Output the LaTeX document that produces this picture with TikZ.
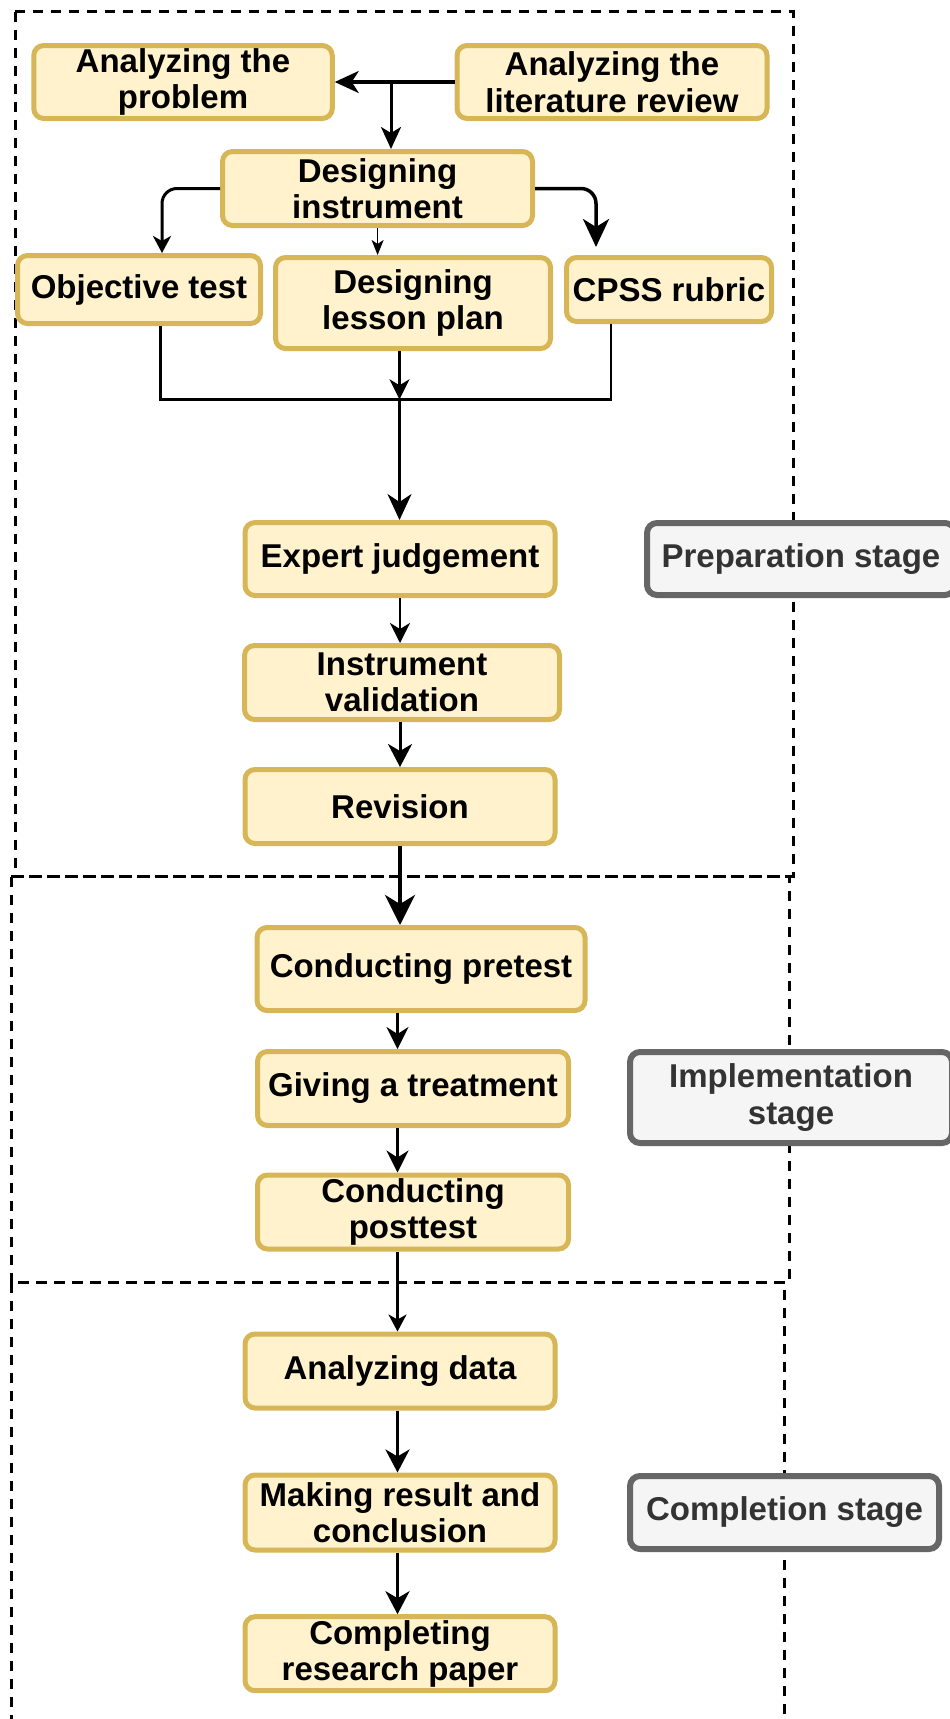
\documentclass[tikz,border=0pt]{standalone}
\usepackage{fontspec}
\setmainfont{Liberation Sans}
\usetikzlibrary{arrows.meta,calc}
\definecolor{boxfill}{HTML}{FFF2CC}
\definecolor{boxdraw}{HTML}{D6B656}
\definecolor{stfill}{HTML}{F5F5F5}
\definecolor{stdraw}{HTML}{666666}
\definecolor{sttext}{HTML}{333333}
\begin{document}
\begin{tikzpicture}[x=1pt,y=-1pt,
  box/.style={draw=boxdraw, fill=boxfill, line width=5pt, rounded corners=10pt, inner sep=0pt, align=center, font=\bfseries\fontsize{33}{36.5}\selectfont},
  stagebox/.style={draw=stdraw, fill=stfill, line width=6pt, rounded corners=10pt, inner sep=0pt, align=center, text=sttext, font=\bfseries\fontsize{33}{36.5}\selectfont},
  frame/.style={line width=3pt, dash pattern=on 10pt off 8pt},
  ah/.style n args={3}{-{Stealth[length=#1pt,width=#2pt,inset=#3pt]}},
]
\useasboundingbox (0,0) rectangle (950,1719);

% stage frames
\draw[frame] (15,11.7) rectangle (793,876.7);
\draw[frame] (11,876.7) rectangle (789,1282.7);
\draw[frame] (11,1282.7) rectangle (784,1760);

% process boxes
\node[box, minimum width=298.5pt, minimum height=73pt] (prob) at (183,82) {Analyzing the\\problem};
\node[box, minimum width=310pt, minimum height=73pt] (lit) at (612,82) {Analyzing the\\literature review};
\node[box, minimum width=310pt, minimum height=74pt] (di) at (377.5,188.5) {Designing\\instrument};
\node[box, minimum width=243pt, minimum height=68pt] (obj) at (139,289.5) {Objective test};
\node[box, minimum width=275pt, minimum height=91pt] (lp) at (413,303) {Designing\\lesson plan};
\node[box, minimum width=205pt, minimum height=64pt] (cpss) at (669,289.5) {CPSS rubric};
\node[box, minimum width=310pt, minimum height=73pt] (ej) at (400,559) {Expert judgement};
\node[box, minimum width=315pt, minimum height=74pt] (iv) at (402,682.5) {Instrument\\validation};
\node[box, minimum width=310pt, minimum height=74pt] (rev) at (400,806.5) {Revision};
\node[box, minimum width=328pt, minimum height=83pt] (pre) at (421,969) {Conducting pretest};
\node[box, minimum width=311pt, minimum height=74pt] (gt) at (413,1088.5) {Giving a treatment};
\node[box, minimum width=311pt, minimum height=74pt] (post) at (413,1212) {Conducting\\posttest};
\node[box, minimum width=310pt, minimum height=74pt] (ad) at (400,1371) {Analyzing data};
\node[box, minimum width=310pt, minimum height=75pt] (mr) at (400,1512.5) {Making result and\\conclusion};
\node[box, minimum width=310pt, minimum height=74pt] (crp) at (400,1653.7) {Completing\\research paper};

% stage labels
\node[stagebox, minimum width=308pt, minimum height=72pt] (sprep) at (801,559) {Preparation stage};
\node[stagebox, minimum width=322pt, minimum height=91pt] (simpl) at (791,1097.5) {Implementation\\stage};
\node[stagebox, minimum width=309pt, minimum height=73pt] (scomp) at (784.5,1512.5) {Completion stage};

% connectors
\coordinate (cJ) at (391,82);
\coordinate (cO) at (162,0);
\coordinate (cL) at (377.6,0);
\coordinate (cC) at (596,0);
\coordinate (cOb) at (160.6,0);
\coordinate (cCb) at (611,0);
\coordinate (m) at (399.5,399.3);
\coordinate (c1) at (400,0);
\coordinate (c2) at (397.5,0);

\draw[line width=3.3pt, ah={24}{22}{7}] (lit.west) -- (prob.east);
\draw[line width=3pt, ah={22}{20}{6}] (cJ) -- (cJ |- di.north);
\draw[line width=3pt, rounded corners=15pt, ah={17}{18}{5}] (di.west) -| (cO |- obj.north);
\draw[line width=1.3pt, ah={15}{12}{4}] (cL |- di.south) -- (cL |- lp.north);
\draw[line width=3.5pt, rounded corners=15pt, ah={28}{26}{8}, shorten >=8pt] (di.east) -| (cC |- cpss.north);

\draw[line width=2.8pt] (cOb |- obj.south) |- (m) -| (cCb |- cpss.south);
\draw[line width=2.8pt, ah={20}{20}{6}] (m |- lp.south) -- (m);
\draw[line width=2.6pt, ah={26}{24}{8}] (m) -- (m |- ej.north);

\draw[line width=2.5pt, ah={20}{20}{6}] (c1 |- ej.south) -- (c1 |- iv.north);
\draw[line width=3pt, ah={23}{24}{7}] (c1 |- iv.south) -- (c1 |- rev.north);
\draw[line width=4pt, ah={30}{30}{9}] (c1 |- rev.south) -- (c1 |- pre.north);
\draw[line width=2.5pt, ah={22}{22}{7}] (c2 |- pre.south) -- (c2 |- gt.north);
\draw[line width=2.5pt, ah={22}{22}{7}] (c2 |- gt.south) -- (c2 |- post.north);
\draw[line width=2.5pt, ah={17}{18}{5}] (c2 |- post.south) -- (c2 |- ad.north);
\draw[line width=3.6pt, ah={23}{24}{7}] (c2 |- ad.south) -- (c2 |- mr.north);
\draw[line width=3.6pt, ah={23}{24}{7}] (c2 |- mr.south) -- (c2 |- crp.north);
\end{tikzpicture}
\end{document}
